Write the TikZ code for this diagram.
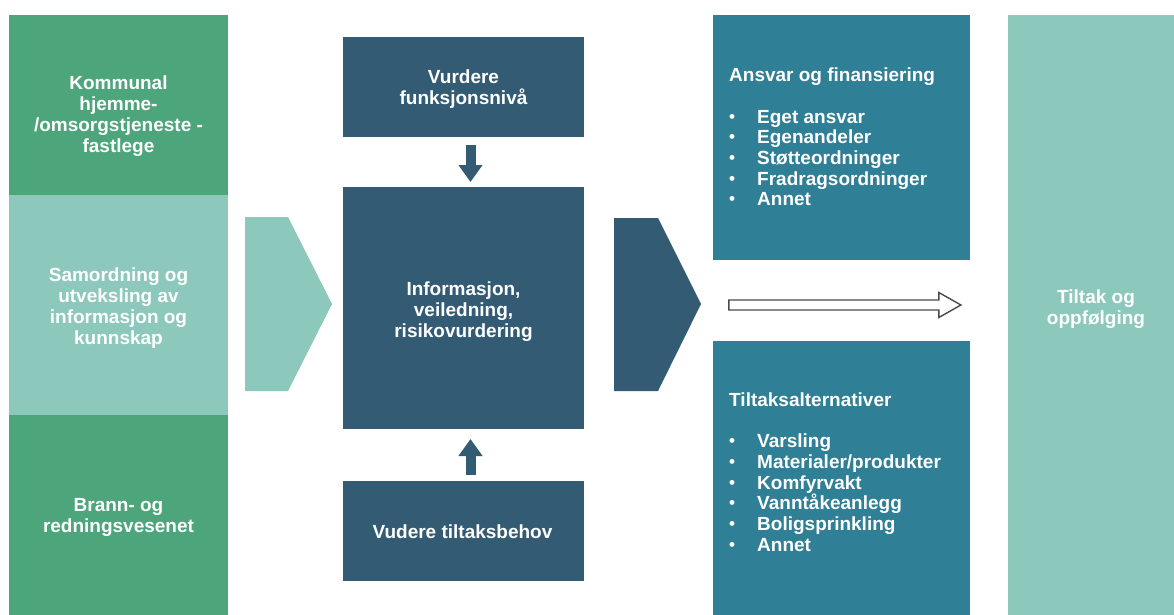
\documentclass[tikz,border=0pt]{standalone}
\usepackage{fontspec}
\setmainfont{Liberation Sans}
\usetikzlibrary{arrows.meta,shapes}

\definecolor{fieldgreen}{HTML}{4DA57B}
\definecolor{paleteal}{HTML}{8CC8BC}
\definecolor{slate}{HTML}{335B74}
\definecolor{deepteal}{HTML}{2F7F96}
\definecolor{outlinegray}{HTML}{4A4A4A}

\newcommand{\itemdot}{\makebox[28pt][l]{\raisebox{1pt}{\fontsize{17}{17}\selectfont\textbullet}}}

\begin{document}
\begin{tikzpicture}[x=1pt, y=-1pt,
    block/.style={rectangle, inner sep=0pt, outer sep=0pt},
    boxtext/.style={text=white, font=\bfseries\fontsize{19}{21}\selectfont, align=center, inner sep=0pt},
    listtext/.style={text=white, font=\bfseries\fontsize{19}{20.7}\selectfont, align=left, anchor=west, inner sep=0pt},
    blockarrow/.style={draw=slate, line width=10pt, -{Triangle[width=23pt, length=17pt]}}
]

% Canvas
\fill[white] (0,0) rectangle (1174,615);
\useasboundingbox (0,0) rectangle (1174,615);

% Actors column
\node[block, fill=fieldgreen, minimum width=219pt, minimum height=180pt] (komm) at (118.5,105) {};
\node[block, fill=paleteal, minimum width=219pt, minimum height=220pt] (samord) at (118.5,305) {};
\node[block, fill=fieldgreen, minimum width=219pt, minimum height=200pt] (brann) at (118.5,515) {};
\node[boxtext] (kommtxt) at (118.5,116.5) {Kommunal\\hjemme-\\/omsorgstjeneste -\\fastlege};
\node[boxtext] (samordtxt) at (118.5,308.5) {Samordning og\\utveksling av\\informasjon og\\kunnskap};
\node[boxtext] (branntxt) at (118.5,517.5) {Brann- og\\redningsvesenet};

% Flow chevrons
\fill[paleteal] (245,217) -- (288,217) -- (332,304) -- (288,391) -- (245,391) -- cycle;
\fill[slate] (614,218) -- (658,218) -- (701,304) -- (658,391) -- (614,391) -- cycle;

% Assessment column
\node[block, fill=slate, minimum width=241pt, minimum height=100pt] (vurd) at (463.5,87) {};
\node[block, fill=slate, minimum width=241pt, minimum height=242pt] (info) at (463.5,308) {};
\node[block, fill=slate, minimum width=241pt, minimum height=100pt] (behov) at (463.5,531) {};
\node[boxtext] (vurdtxt) at (463.5,89.5) {Vurdere\\funksjonsnivå};
\node[boxtext] (infotxt) at (463.5,312) {Informasjon,\\veiledning,\\risikovurdering};
\node[boxtext] (behovtxt) at (462.5,532) {Vudere tiltaksbehov};

% Arrows
\draw[blockarrow] ([xshift=7pt, yshift=-8pt]vurd.south) -- ([xshift=7pt, yshift=5pt]info.north);
\draw[blockarrow] ([xshift=7pt, yshift=6pt]behov.north) -- ([xshift=7pt, yshift=-10pt]info.south);

% Measures column
\node[block, fill=deepteal, minimum width=257pt, minimum height=245pt] (ansvar) at (841.5,137.5) {};
\node[block, fill=deepteal, minimum width=257pt, minimum height=274pt] (tiltalt) at (841.5,478) {};
\node[listtext] (ansvartxt) at (729,137) {Ansvar og finansiering\\[20.7pt]
    \itemdot Eget ansvar\\
    \itemdot Egenandeler\\
    \itemdot Støtteordninger\\
    \itemdot Fradragsordninger\\
    \itemdot Annet};
\node[listtext] (tiltalttxt) at (729,472) {Tiltaksalternativer\\[20.7pt]
    \itemdot Varsling\\
    \itemdot Materialer/produkter\\
    \itemdot Komfyrvakt\\
    \itemdot Vanntåkeanlegg\\
    \itemdot Boligsprinkling\\
    \itemdot Annet};

% Hollow flow arrow
\node[single arrow, draw=outlinegray, fill=white, line width=1.4pt, inner xsep=0pt, inner ysep=4pt,
    minimum width=25pt, minimum height=232pt, single arrow tip angle=59] (flowarrow) at (840.5,305) {};

% Follow-up
\node[block, fill=paleteal, minimum width=166pt, minimum height=600pt] (oppf) at (1091,315) {};
\node[boxtext] (oppftxt) at (1096,309.5) {Tiltak og\\oppfølging};

\end{tikzpicture}
\end{document}
